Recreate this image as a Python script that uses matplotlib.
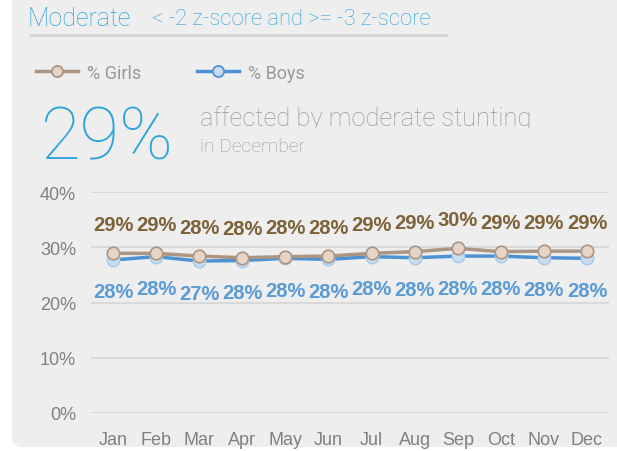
"""
Moderate stunting by month - girls vs boys line chart
"""
import matplotlib
matplotlib.use('Agg')
import matplotlib.pyplot as plt
from matplotlib.patches import FancyBboxPatch, Rectangle
from matplotlib.lines import Line2D
from matplotlib.transforms import IdentityTransform

# data
months = ['Jan', 'Feb', 'Mar', 'Apr', 'May', 'Jun', 'Jul', 'Aug', 'Sep', 'Oct', 'Nov', 'Dec']
girls = [28.9, 28.9, 28.4, 28.1, 28.3, 28.4, 28.9, 29.2, 29.8, 29.2, 29.3, 29.3]
boys = [27.7, 28.3, 27.5, 27.6, 28.0, 27.8, 28.3, 28.1, 28.4, 28.4, 28.1, 28.0]
girls_labels = ['29%', '29%', '28%', '28%', '28%', '28%', '29%', '29%', '30%', '29%', '29%', '29%']
boys_labels = ['28%', '28%', '27%', '28%', '28%', '28%', '28%', '28%', '28%', '28%', '28%', '28%']
y_ticks = [0, 10, 20, 30, 40]

W, H = 617, 452
BG = '#eeeeee'
BLUE = '#2ea3da'
GRAY_TXT = '#9a9a9a'
GIRL_LINE = '#ab9584'
GIRL_FILL = '#e6d5c6'
GIRL_LBL = '#7d6239'
BOY_LINE = '#4d92d2'
BOY_FILL = '#c6dcf1'
BOY_LBL = '#5b9bd5'

THIN = ['Roboto', 'DejaVu Sans']

fig = plt.figure(figsize=(W / 100, H / 100), dpi=100, facecolor='white')


def fx(x):
    return x / W


def fy(y):
    # image y (top origin) -> figure fraction
    return 1 - y / H


# gray panel with rounded bottom-left corner
panel = FancyBboxPatch((12, H - 448), 700, 600, boxstyle='round,pad=0,rounding_size=10',
                       transform=IdentityTransform(), facecolor=BG, edgecolor='none', zorder=0)
fig.add_artist(panel)

# header
fig.text(fx(27), fy(26), 'Moderate', color=BLUE, fontsize=18, family=THIN, weight='light',
         va='baseline')
fig.text(fx(152), fy(25), '< -2 z-score and >= -3 z-score', color=BLUE, fontsize=15.8,
         family=THIN, weight='light', va='baseline')
fig.add_artist(Line2D([fx(31), fx(446)], [fy(36), fy(36)], color='#d4d4d4', lw=2,
                      transform=fig.transFigure))

# legend
for x0, col, fill, name in [(36, GIRL_LINE, GIRL_FILL, '% Girls'), (197, BOY_LINE, BOY_FILL, '% Boys')]:
    fig.add_artist(Line2D([fx(x0), fx(x0 + 42)], [fy(72), fy(72)], color=col, lw=2.5,
                          transform=fig.transFigure))
    fig.add_artist(Line2D([fx(x0 + 21)], [fy(72)], marker='o', ms=8, mfc=fill, mec=col, mew=1.3,
                          transform=fig.transFigure))
    fig.text(fx(x0 + 51), fy(79), name, color='#999999', fontsize=13, family=THIN,
             va='baseline')

# big number and caption
fig.text(fx(41), fy(159), '29%', color=BLUE, fontsize=52, family=THIN, weight='light',
         va='baseline')
t = fig.text(fx(200), fy(126), 'affected by moderate stunting', color=GRAY_TXT, fontsize=18.4,
             family=THIN, weight='light', va='baseline')
t.set_clip_path(Rectangle((0, H - 129), W, 40, transform=IdentityTransform()))
fig.text(fx(200), fy(152), 'in December', color=GRAY_TXT, fontsize=13.9, family=THIN,
         weight='light', va='baseline')

# chart
ax = fig.add_axes([fx(91.5), fy(414), fx(608.5) - fx(91.5), fy(193) - fy(414)])
ax.set_facecolor('none')
x = list(range(len(months)))
ax.plot(x, boys, color=BOY_LINE, lw=2.5, marker='o', ms=9, mfc=BOY_FILL, mec='#a9c9e9',
        mew=1, zorder=3)
ax.plot(x, girls, color=GIRL_LINE, lw=2.5, marker='o', ms=9, mfc=GIRL_FILL, mec=GIRL_LINE,
        mew=1.2, zorder=4)

for i in x:
    ax.annotate(girls_labels[i], (i, girls[i]), xytext=(0, 29), textcoords='offset pixels',
                ha='center', va='center', color=GIRL_LBL, fontsize=14.5, fontweight='bold',
                family='Liberation Sans')
    ax.annotate(boys_labels[i], (i, boys[i]), xytext=(0, -32), textcoords='offset pixels',
                ha='center', va='center', color=BOY_LBL, fontsize=14.5, fontweight='bold',
                family='Liberation Sans')

ax.set_xlim(-0.5, 11.5)
ax.set_ylim(0, 40)
ax.set_yticks(y_ticks)
ax.set_yticklabels([f'{v}%' for v in y_ticks])
ax.set_xticks(x)
ax.set_xticklabels(months)
ax.grid(axis='y', color='#d9d9d9', lw=1.5)
ax.set_axisbelow(True)
for s in ax.spines.values():
    s.set_visible(False)
ax.tick_params(length=0, colors='#808080', labelsize=13)
ax.tick_params(axis='y', pad=11)
ax.tick_params(axis='x', pad=13)
for lbl in ax.get_xticklabels() + ax.get_yticklabels():
    lbl.set_family('Liberation Sans')

fig.savefig('out.png', dpi=100, facecolor='white')
